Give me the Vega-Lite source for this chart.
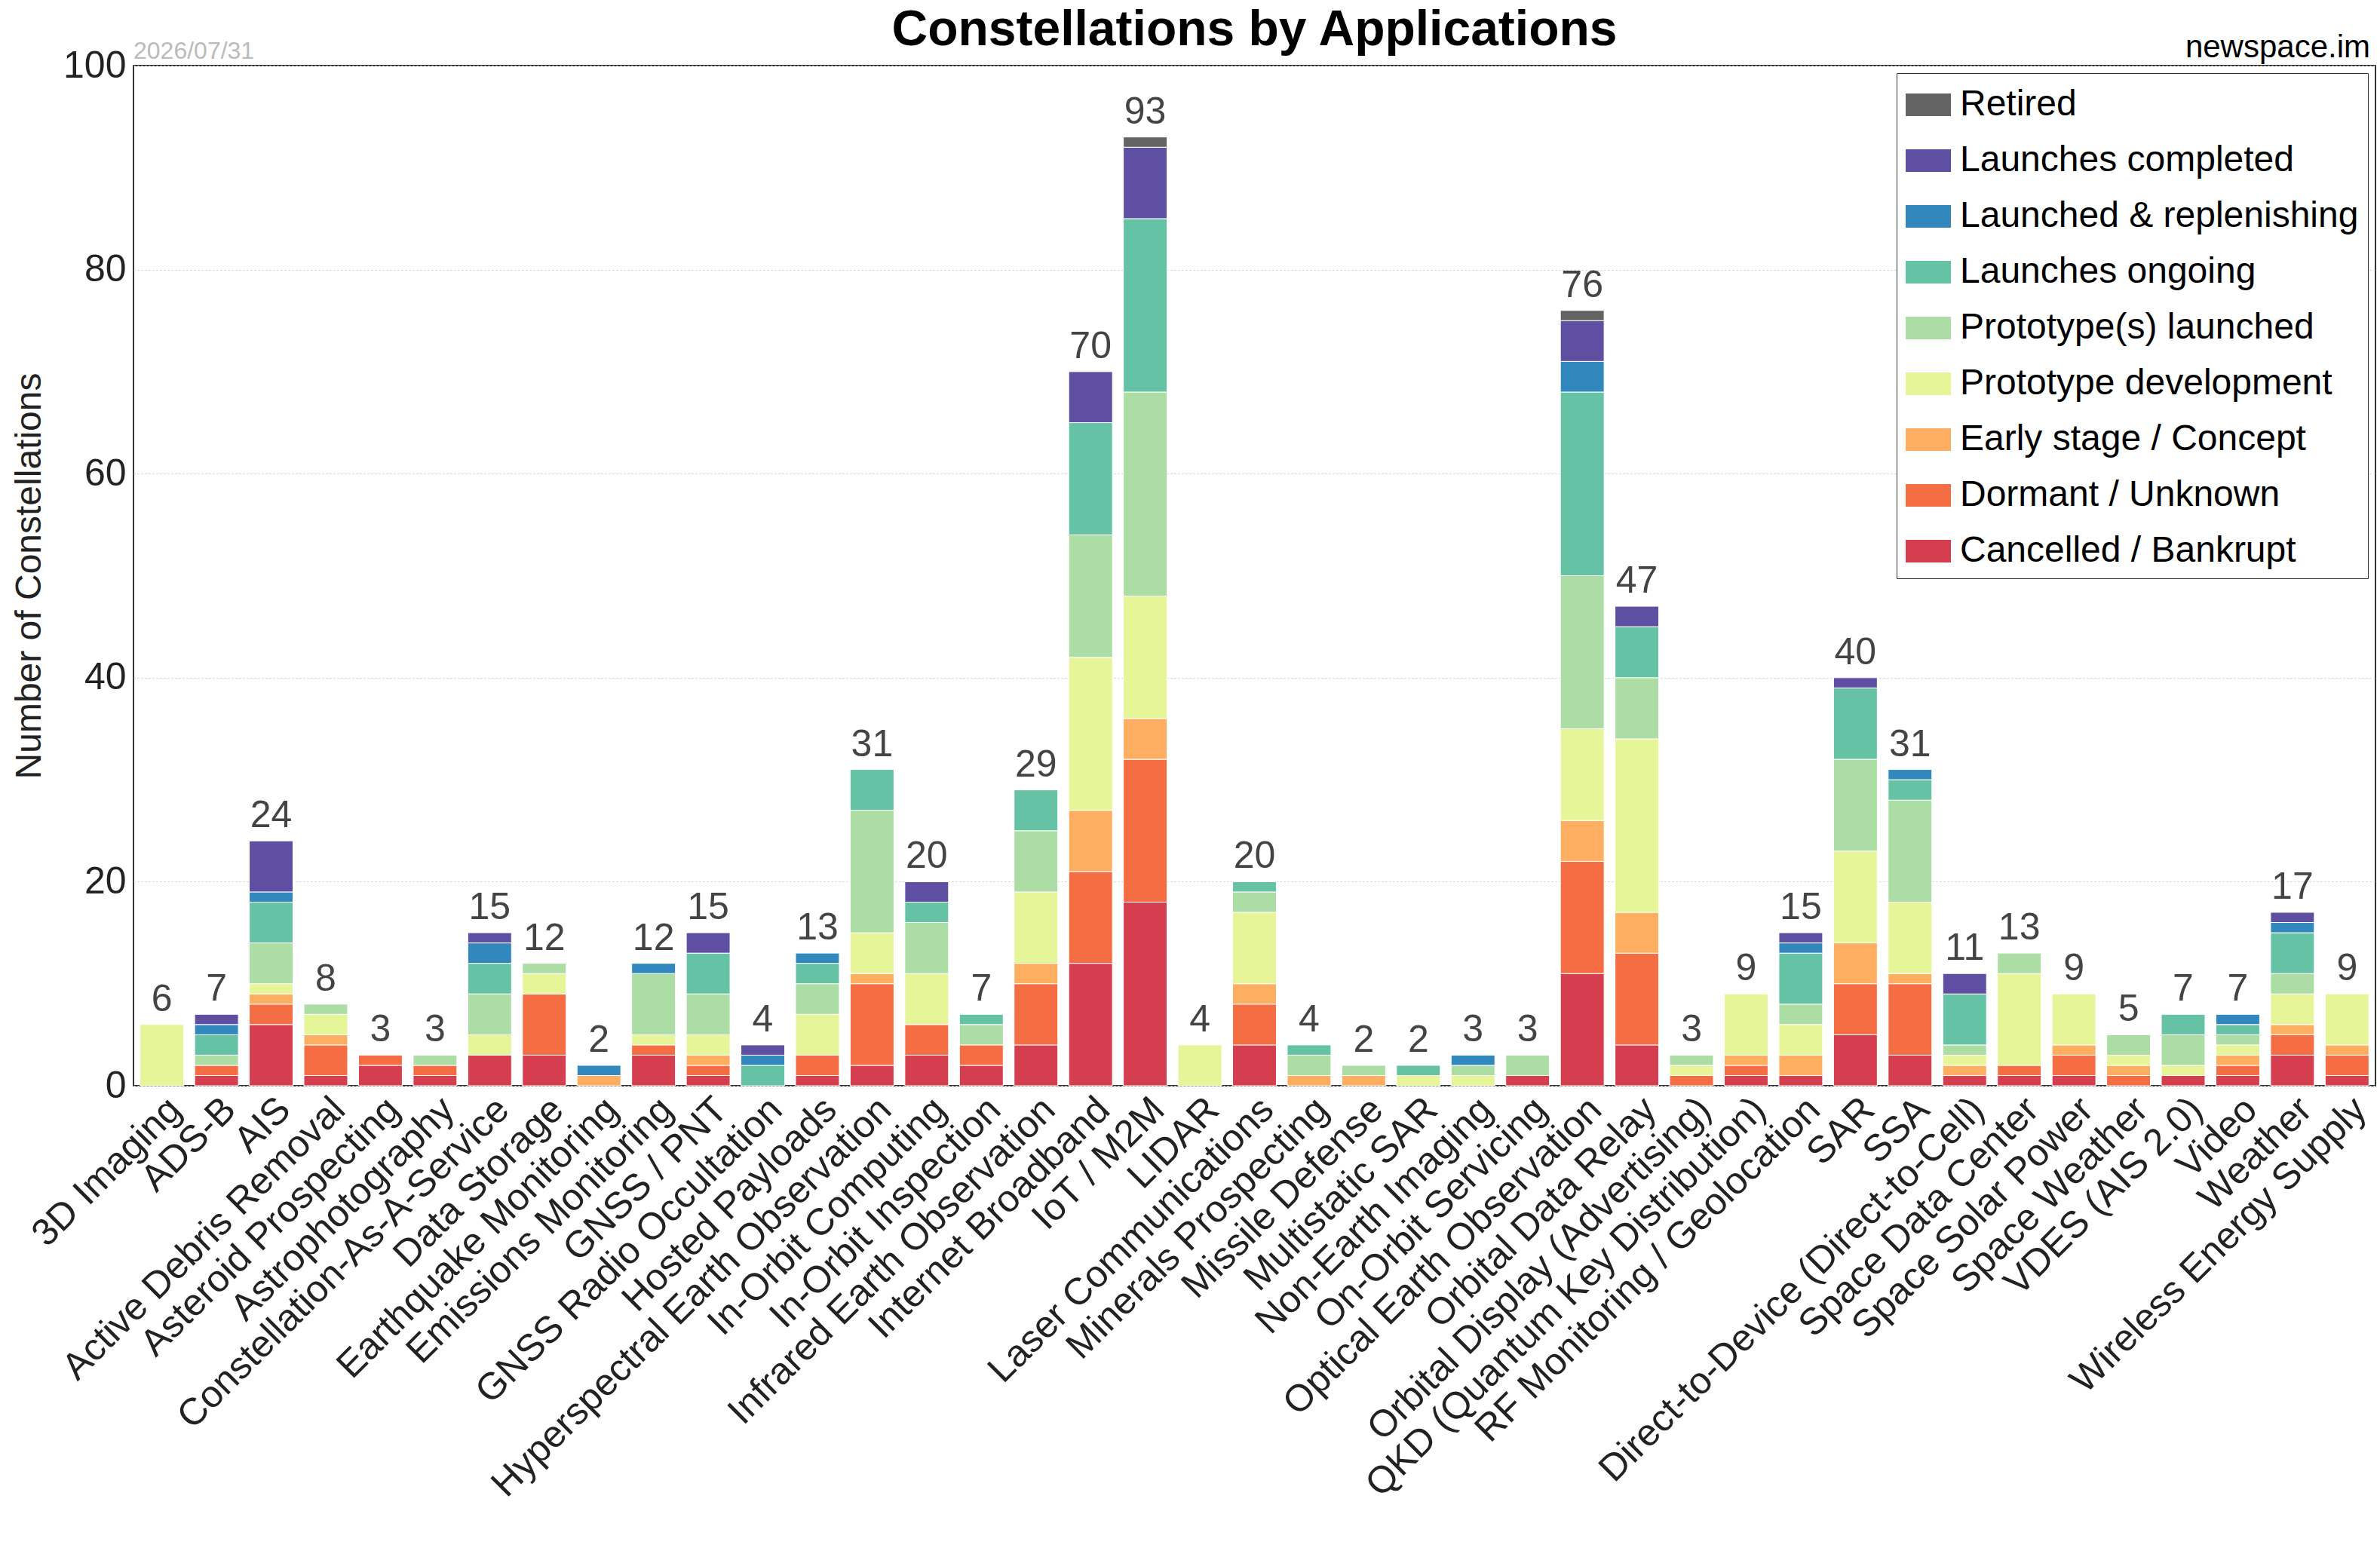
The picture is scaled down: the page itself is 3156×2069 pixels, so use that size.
{
  "$schema": "https://vega.github.io/schema/vega-lite/v6.json",
  "autosize": "none",
  "width": 2973,
  "height": 1353,
  "padding": {"left": 177, "top": 87, "right": 6, "bottom": 629},
  "background": "white",
  "config": {
    "font": "Liberation Sans",
    "view": {"stroke": "#333", "strokeWidth": 2},
    "axis": {"labelFontSize": 50, "titleFontSize": 48, "labelColor": "#222", "titleColor": "#222", "titleFontWeight": "normal", "domainColor": "#333", "tickColor": "#333"}
  },
  "title": {"text": "Constellations by Applications", "fontSize": 66, "fontWeight": "bold", "anchor": "middle", "offset": 6, "dy": 38, "color": "black"},
  "data": {"values": [
    {"app": "3D Imaging", "status": "Prototype development", "n": 6},
    {"app": "ADS-B", "status": "Cancelled / Bankrupt", "n": 1},
    {"app": "ADS-B", "status": "Dormant / Unknown", "n": 1},
    {"app": "ADS-B", "status": "Prototype(s) launched", "n": 1},
    {"app": "ADS-B", "status": "Launches ongoing", "n": 2},
    {"app": "ADS-B", "status": "Launched & replenishing", "n": 1},
    {"app": "ADS-B", "status": "Launches completed", "n": 1},
    {"app": "AIS", "status": "Cancelled / Bankrupt", "n": 6},
    {"app": "AIS", "status": "Dormant / Unknown", "n": 2},
    {"app": "AIS", "status": "Early stage / Concept", "n": 1},
    {"app": "AIS", "status": "Prototype development", "n": 1},
    {"app": "AIS", "status": "Prototype(s) launched", "n": 4},
    {"app": "AIS", "status": "Launches ongoing", "n": 4},
    {"app": "AIS", "status": "Launched & replenishing", "n": 1},
    {"app": "AIS", "status": "Launches completed", "n": 5},
    {"app": "Active Debris Removal", "status": "Cancelled / Bankrupt", "n": 1},
    {"app": "Active Debris Removal", "status": "Dormant / Unknown", "n": 3},
    {"app": "Active Debris Removal", "status": "Early stage / Concept", "n": 1},
    {"app": "Active Debris Removal", "status": "Prototype development", "n": 2},
    {"app": "Active Debris Removal", "status": "Prototype(s) launched", "n": 1},
    {"app": "Asteroid Prospecting", "status": "Cancelled / Bankrupt", "n": 2},
    {"app": "Asteroid Prospecting", "status": "Dormant / Unknown", "n": 1},
    {"app": "Astrophotography", "status": "Cancelled / Bankrupt", "n": 1},
    {"app": "Astrophotography", "status": "Dormant / Unknown", "n": 1},
    {"app": "Astrophotography", "status": "Prototype(s) launched", "n": 1},
    {"app": "Constellation-As-A-Service", "status": "Cancelled / Bankrupt", "n": 3},
    {"app": "Constellation-As-A-Service", "status": "Prototype development", "n": 2},
    {"app": "Constellation-As-A-Service", "status": "Prototype(s) launched", "n": 4},
    {"app": "Constellation-As-A-Service", "status": "Launches ongoing", "n": 3},
    {"app": "Constellation-As-A-Service", "status": "Launched & replenishing", "n": 2},
    {"app": "Constellation-As-A-Service", "status": "Launches completed", "n": 1},
    {"app": "Data Storage", "status": "Cancelled / Bankrupt", "n": 3},
    {"app": "Data Storage", "status": "Dormant / Unknown", "n": 6},
    {"app": "Data Storage", "status": "Prototype development", "n": 2},
    {"app": "Data Storage", "status": "Prototype(s) launched", "n": 1},
    {"app": "Earthquake Monitoring", "status": "Early stage / Concept", "n": 1},
    {"app": "Earthquake Monitoring", "status": "Launched & replenishing", "n": 1},
    {"app": "Emissions Monitoring", "status": "Cancelled / Bankrupt", "n": 3},
    {"app": "Emissions Monitoring", "status": "Dormant / Unknown", "n": 1},
    {"app": "Emissions Monitoring", "status": "Prototype development", "n": 1},
    {"app": "Emissions Monitoring", "status": "Prototype(s) launched", "n": 6},
    {"app": "Emissions Monitoring", "status": "Launched & replenishing", "n": 1},
    {"app": "GNSS / PNT", "status": "Cancelled / Bankrupt", "n": 1},
    {"app": "GNSS / PNT", "status": "Dormant / Unknown", "n": 1},
    {"app": "GNSS / PNT", "status": "Early stage / Concept", "n": 1},
    {"app": "GNSS / PNT", "status": "Prototype development", "n": 2},
    {"app": "GNSS / PNT", "status": "Prototype(s) launched", "n": 4},
    {"app": "GNSS / PNT", "status": "Launches ongoing", "n": 4},
    {"app": "GNSS / PNT", "status": "Launches completed", "n": 2},
    {"app": "GNSS Radio Occultation", "status": "Launches ongoing", "n": 2},
    {"app": "GNSS Radio Occultation", "status": "Launched & replenishing", "n": 1},
    {"app": "GNSS Radio Occultation", "status": "Launches completed", "n": 1},
    {"app": "Hosted Payloads", "status": "Cancelled / Bankrupt", "n": 1},
    {"app": "Hosted Payloads", "status": "Dormant / Unknown", "n": 2},
    {"app": "Hosted Payloads", "status": "Prototype development", "n": 4},
    {"app": "Hosted Payloads", "status": "Prototype(s) launched", "n": 3},
    {"app": "Hosted Payloads", "status": "Launches ongoing", "n": 2},
    {"app": "Hosted Payloads", "status": "Launched & replenishing", "n": 1},
    {"app": "Hyperspectral Earth Observation", "status": "Cancelled / Bankrupt", "n": 2},
    {"app": "Hyperspectral Earth Observation", "status": "Dormant / Unknown", "n": 8},
    {"app": "Hyperspectral Earth Observation", "status": "Early stage / Concept", "n": 1},
    {"app": "Hyperspectral Earth Observation", "status": "Prototype development", "n": 4},
    {"app": "Hyperspectral Earth Observation", "status": "Prototype(s) launched", "n": 12},
    {"app": "Hyperspectral Earth Observation", "status": "Launches ongoing", "n": 4},
    {"app": "In-Orbit Computing", "status": "Cancelled / Bankrupt", "n": 3},
    {"app": "In-Orbit Computing", "status": "Dormant / Unknown", "n": 3},
    {"app": "In-Orbit Computing", "status": "Prototype development", "n": 5},
    {"app": "In-Orbit Computing", "status": "Prototype(s) launched", "n": 5},
    {"app": "In-Orbit Computing", "status": "Launches ongoing", "n": 2},
    {"app": "In-Orbit Computing", "status": "Launches completed", "n": 2},
    {"app": "In-Orbit Inspection", "status": "Cancelled / Bankrupt", "n": 2},
    {"app": "In-Orbit Inspection", "status": "Dormant / Unknown", "n": 2},
    {"app": "In-Orbit Inspection", "status": "Prototype(s) launched", "n": 2},
    {"app": "In-Orbit Inspection", "status": "Launches ongoing", "n": 1},
    {"app": "Infrared Earth Observation", "status": "Cancelled / Bankrupt", "n": 4},
    {"app": "Infrared Earth Observation", "status": "Dormant / Unknown", "n": 6},
    {"app": "Infrared Earth Observation", "status": "Early stage / Concept", "n": 2},
    {"app": "Infrared Earth Observation", "status": "Prototype development", "n": 7},
    {"app": "Infrared Earth Observation", "status": "Prototype(s) launched", "n": 6},
    {"app": "Infrared Earth Observation", "status": "Launches ongoing", "n": 4},
    {"app": "Internet Broadband", "status": "Cancelled / Bankrupt", "n": 12},
    {"app": "Internet Broadband", "status": "Dormant / Unknown", "n": 9},
    {"app": "Internet Broadband", "status": "Early stage / Concept", "n": 6},
    {"app": "Internet Broadband", "status": "Prototype development", "n": 15},
    {"app": "Internet Broadband", "status": "Prototype(s) launched", "n": 12},
    {"app": "Internet Broadband", "status": "Launches ongoing", "n": 11},
    {"app": "Internet Broadband", "status": "Launches completed", "n": 5},
    {"app": "IoT / M2M", "status": "Cancelled / Bankrupt", "n": 18},
    {"app": "IoT / M2M", "status": "Dormant / Unknown", "n": 14},
    {"app": "IoT / M2M", "status": "Early stage / Concept", "n": 4},
    {"app": "IoT / M2M", "status": "Prototype development", "n": 12},
    {"app": "IoT / M2M", "status": "Prototype(s) launched", "n": 20},
    {"app": "IoT / M2M", "status": "Launches ongoing", "n": 17},
    {"app": "IoT / M2M", "status": "Launches completed", "n": 7},
    {"app": "IoT / M2M", "status": "Retired", "n": 1},
    {"app": "LIDAR", "status": "Prototype development", "n": 4},
    {"app": "Laser Communications", "status": "Cancelled / Bankrupt", "n": 4},
    {"app": "Laser Communications", "status": "Dormant / Unknown", "n": 4},
    {"app": "Laser Communications", "status": "Early stage / Concept", "n": 2},
    {"app": "Laser Communications", "status": "Prototype development", "n": 7},
    {"app": "Laser Communications", "status": "Prototype(s) launched", "n": 2},
    {"app": "Laser Communications", "status": "Launches ongoing", "n": 1},
    {"app": "Minerals Prospecting", "status": "Early stage / Concept", "n": 1},
    {"app": "Minerals Prospecting", "status": "Prototype(s) launched", "n": 2},
    {"app": "Minerals Prospecting", "status": "Launches ongoing", "n": 1},
    {"app": "Missile Defense", "status": "Early stage / Concept", "n": 1},
    {"app": "Missile Defense", "status": "Prototype(s) launched", "n": 1},
    {"app": "Multistatic SAR", "status": "Prototype development", "n": 1},
    {"app": "Multistatic SAR", "status": "Launches ongoing", "n": 1},
    {"app": "Non-Earth Imaging", "status": "Prototype development", "n": 1},
    {"app": "Non-Earth Imaging", "status": "Prototype(s) launched", "n": 1},
    {"app": "Non-Earth Imaging", "status": "Launched & replenishing", "n": 1},
    {"app": "On-Orbit Servicing", "status": "Cancelled / Bankrupt", "n": 1},
    {"app": "On-Orbit Servicing", "status": "Prototype(s) launched", "n": 2},
    {"app": "Optical Earth Observation", "status": "Cancelled / Bankrupt", "n": 11},
    {"app": "Optical Earth Observation", "status": "Dormant / Unknown", "n": 11},
    {"app": "Optical Earth Observation", "status": "Early stage / Concept", "n": 4},
    {"app": "Optical Earth Observation", "status": "Prototype development", "n": 9},
    {"app": "Optical Earth Observation", "status": "Prototype(s) launched", "n": 15},
    {"app": "Optical Earth Observation", "status": "Launches ongoing", "n": 18},
    {"app": "Optical Earth Observation", "status": "Launched & replenishing", "n": 3},
    {"app": "Optical Earth Observation", "status": "Launches completed", "n": 4},
    {"app": "Optical Earth Observation", "status": "Retired", "n": 1},
    {"app": "Orbital Data Relay", "status": "Cancelled / Bankrupt", "n": 4},
    {"app": "Orbital Data Relay", "status": "Dormant / Unknown", "n": 9},
    {"app": "Orbital Data Relay", "status": "Early stage / Concept", "n": 4},
    {"app": "Orbital Data Relay", "status": "Prototype development", "n": 17},
    {"app": "Orbital Data Relay", "status": "Prototype(s) launched", "n": 6},
    {"app": "Orbital Data Relay", "status": "Launches ongoing", "n": 5},
    {"app": "Orbital Data Relay", "status": "Launches completed", "n": 2},
    {"app": "Orbital Display (Advertising)", "status": "Dormant / Unknown", "n": 1},
    {"app": "Orbital Display (Advertising)", "status": "Prototype development", "n": 1},
    {"app": "Orbital Display (Advertising)", "status": "Prototype(s) launched", "n": 1},
    {"app": "QKD (Quantum Key Distribution)", "status": "Cancelled / Bankrupt", "n": 1},
    {"app": "QKD (Quantum Key Distribution)", "status": "Dormant / Unknown", "n": 1},
    {"app": "QKD (Quantum Key Distribution)", "status": "Early stage / Concept", "n": 1},
    {"app": "QKD (Quantum Key Distribution)", "status": "Prototype development", "n": 6},
    {"app": "RF Monitoring / Geolocation", "status": "Cancelled / Bankrupt", "n": 1},
    {"app": "RF Monitoring / Geolocation", "status": "Early stage / Concept", "n": 2},
    {"app": "RF Monitoring / Geolocation", "status": "Prototype development", "n": 3},
    {"app": "RF Monitoring / Geolocation", "status": "Prototype(s) launched", "n": 2},
    {"app": "RF Monitoring / Geolocation", "status": "Launches ongoing", "n": 5},
    {"app": "RF Monitoring / Geolocation", "status": "Launched & replenishing", "n": 1},
    {"app": "RF Monitoring / Geolocation", "status": "Launches completed", "n": 1},
    {"app": "SAR", "status": "Cancelled / Bankrupt", "n": 5},
    {"app": "SAR", "status": "Dormant / Unknown", "n": 5},
    {"app": "SAR", "status": "Early stage / Concept", "n": 4},
    {"app": "SAR", "status": "Prototype development", "n": 9},
    {"app": "SAR", "status": "Prototype(s) launched", "n": 9},
    {"app": "SAR", "status": "Launches ongoing", "n": 7},
    {"app": "SAR", "status": "Launches completed", "n": 1},
    {"app": "SSA", "status": "Cancelled / Bankrupt", "n": 3},
    {"app": "SSA", "status": "Dormant / Unknown", "n": 7},
    {"app": "SSA", "status": "Early stage / Concept", "n": 1},
    {"app": "SSA", "status": "Prototype development", "n": 7},
    {"app": "SSA", "status": "Prototype(s) launched", "n": 10},
    {"app": "SSA", "status": "Launches ongoing", "n": 2},
    {"app": "SSA", "status": "Launched & replenishing", "n": 1},
    {"app": "Direct-to-Device (Direct-to-Cell)", "status": "Cancelled / Bankrupt", "n": 1},
    {"app": "Direct-to-Device (Direct-to-Cell)", "status": "Early stage / Concept", "n": 1},
    {"app": "Direct-to-Device (Direct-to-Cell)", "status": "Prototype development", "n": 1},
    {"app": "Direct-to-Device (Direct-to-Cell)", "status": "Prototype(s) launched", "n": 1},
    {"app": "Direct-to-Device (Direct-to-Cell)", "status": "Launches ongoing", "n": 5},
    {"app": "Direct-to-Device (Direct-to-Cell)", "status": "Launches completed", "n": 2},
    {"app": "Space Data Center", "status": "Cancelled / Bankrupt", "n": 1},
    {"app": "Space Data Center", "status": "Dormant / Unknown", "n": 1},
    {"app": "Space Data Center", "status": "Prototype development", "n": 9},
    {"app": "Space Data Center", "status": "Prototype(s) launched", "n": 2},
    {"app": "Space Solar Power", "status": "Cancelled / Bankrupt", "n": 1},
    {"app": "Space Solar Power", "status": "Dormant / Unknown", "n": 2},
    {"app": "Space Solar Power", "status": "Early stage / Concept", "n": 1},
    {"app": "Space Solar Power", "status": "Prototype development", "n": 5},
    {"app": "Space Weather", "status": "Dormant / Unknown", "n": 1},
    {"app": "Space Weather", "status": "Early stage / Concept", "n": 1},
    {"app": "Space Weather", "status": "Prototype development", "n": 1},
    {"app": "Space Weather", "status": "Prototype(s) launched", "n": 2},
    {"app": "VDES (AIS 2.0)", "status": "Cancelled / Bankrupt", "n": 1},
    {"app": "VDES (AIS 2.0)", "status": "Prototype development", "n": 1},
    {"app": "VDES (AIS 2.0)", "status": "Prototype(s) launched", "n": 3},
    {"app": "VDES (AIS 2.0)", "status": "Launches ongoing", "n": 2},
    {"app": "Video", "status": "Cancelled / Bankrupt", "n": 1},
    {"app": "Video", "status": "Dormant / Unknown", "n": 1},
    {"app": "Video", "status": "Early stage / Concept", "n": 1},
    {"app": "Video", "status": "Prototype development", "n": 1},
    {"app": "Video", "status": "Prototype(s) launched", "n": 1},
    {"app": "Video", "status": "Launches ongoing", "n": 1},
    {"app": "Video", "status": "Launched & replenishing", "n": 1},
    {"app": "Weather", "status": "Cancelled / Bankrupt", "n": 3},
    {"app": "Weather", "status": "Dormant / Unknown", "n": 2},
    {"app": "Weather", "status": "Early stage / Concept", "n": 1},
    {"app": "Weather", "status": "Prototype development", "n": 3},
    {"app": "Weather", "status": "Prototype(s) launched", "n": 2},
    {"app": "Weather", "status": "Launches ongoing", "n": 4},
    {"app": "Weather", "status": "Launched & replenishing", "n": 1},
    {"app": "Weather", "status": "Launches completed", "n": 1},
    {"app": "Wireless Energy Supply", "status": "Cancelled / Bankrupt", "n": 1},
    {"app": "Wireless Energy Supply", "status": "Dormant / Unknown", "n": 2},
    {"app": "Wireless Energy Supply", "status": "Early stage / Concept", "n": 1},
    {"app": "Wireless Energy Supply", "status": "Prototype development", "n": 5}
  ]},
  "encoding": {
    "x": {
      "field": "app", "type": "nominal", "sort": null, "title": null,
      "scale": {"paddingInner": 0.2, "paddingOuter": 0.12},
      "axis": {"labelAngle": -45, "labelAlign": "right", "labelBaseline": "top", "labelPadding": 6, "ticks": false, "domain": false, "labelLimit": 1200}
    }
  },
  "layer": [
    {
      "transform": [{"calculate": "indexof(['Cancelled / Bankrupt','Dormant / Unknown','Early stage / Concept','Prototype development','Prototype(s) launched','Launches ongoing','Launched & replenishing','Launches completed','Retired'], datum.status)", "as": "k"}],
      "mark": {"type": "bar", "stroke": "white", "strokeWidth": 1},
      "encoding": {
        "y": {
          "field": "n", "type": "quantitative", "aggregate": "sum", "stack": "zero",
          "title": "Number of Constellations",
          "scale": {"domain": [0, 100], "nice": false},
          "axis": {"values": [0, 20, 40, 60, 80, 100], "gridDash": [2, 3], "gridColor": "#ccc", "ticks": false, "domain": false, "labelPadding": 10, "titlePadding": 20}
        },
        "order": {"field": "k", "type": "quantitative"},
        "color": {
          "field": "status", "type": "nominal",
          "scale": {
            "domain": ["Retired", "Launches completed", "Launched & replenishing", "Launches ongoing", "Prototype(s) launched", "Prototype development", "Early stage / Concept", "Dormant / Unknown", "Cancelled / Bankrupt"],
            "range": ["#636363", "#5e4fa2", "#3288bd", "#66c2a5", "#abdda4", "#e6f598", "#fdae61", "#f46d43", "#d53e4f"]
          },
          "legend": {
            "title": null, "orient": "top-right", "offset": 10,
            "labelFontSize": 48, "labelColor": "black", "labelLimit": 1000,
            "symbolType": "M-1,-0.5H1V0.5H-1Z", "symbolSize": 3600, "symbolStrokeWidth": 0, "symbolOpacity": 1,
            "rowPadding": 20, "labelOffset": 12,
            "strokeColor": "#333", "fillColor": "white", "padding": 12
          }
        }
      }
    },
    {
      "mark": {"type": "text", "baseline": "bottom", "dy": -8, "fontSize": 50, "color": "#444"},
      "encoding": {
        "y": {"field": "n", "type": "quantitative", "aggregate": "sum"},
        "text": {"field": "n", "type": "quantitative", "aggregate": "sum"}
      }
    },
    {
      "data": {"values": [{"t": "2026/07/31"}]},
      "mark": {"type": "text", "align": "left", "baseline": "bottom", "dx": 0, "dy": -2, "fontSize": 32, "color": "#bbb"},
      "encoding": {"x": {"value": 0}, "y": {"value": 0}, "text": {"field": "t"}}
    },
    {
      "data": {"values": [{"t": "newspace.im"}]},
      "mark": {"type": "text", "align": "right", "baseline": "bottom", "dy": -2, "fontSize": 42, "color": "black"},
      "encoding": {"x": {"value": 2966}, "y": {"value": 0}, "text": {"field": "t"}}
    }
  ]
}
